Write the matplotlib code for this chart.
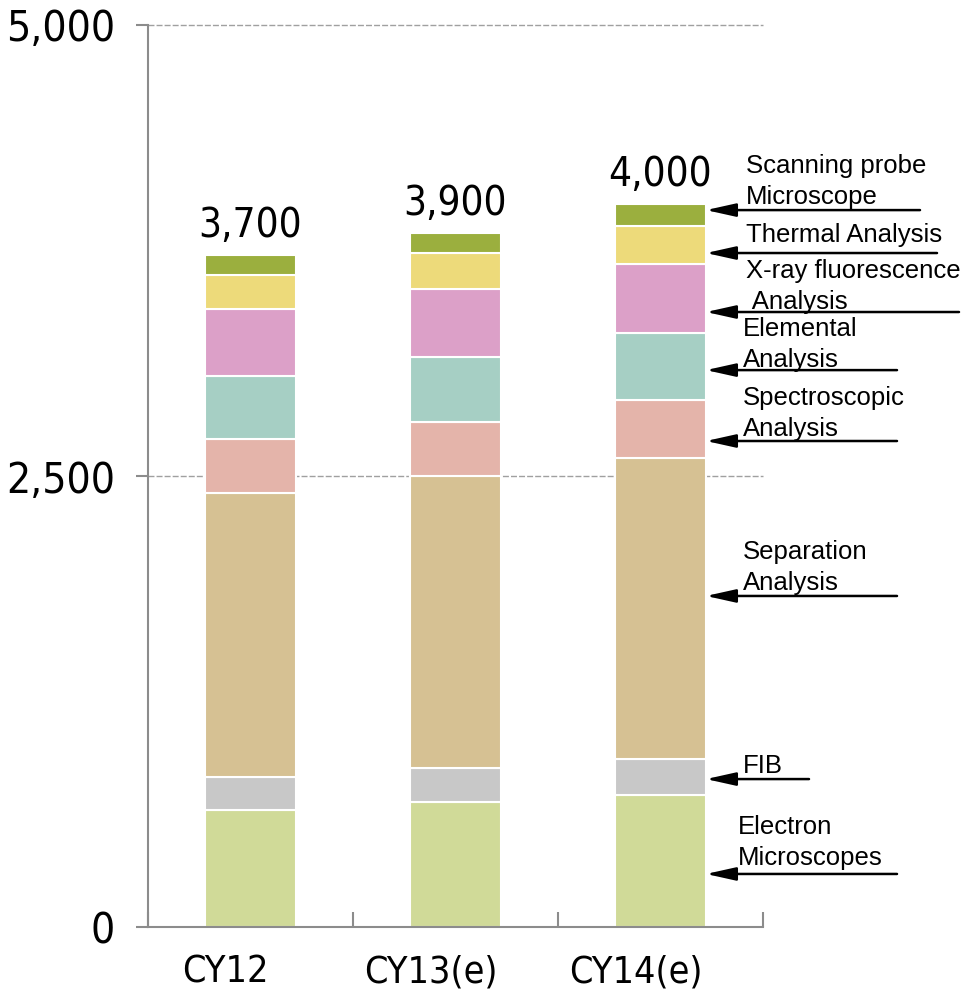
import matplotlib
matplotlib.use("Agg")
import matplotlib.pyplot as plt
import matplotlib.transforms as mtransforms
import numpy as np

# categories and stacked series (units, bottom -> top)
years = ["CY12", "CY13(e)", "CY14(e)"]
electron = [648, 693, 732]
fib = [183, 188, 199]
separation = [1575, 1619, 1669]
spectroscopic = [299, 299, 321]
elemental = [349, 361, 372]
xray = [372, 377, 382]
thermal = [188, 199, 211]
spm = [111, 111, 122]
totals = [3700, 3900, 4000]

series = [electron, fib, separation, spectroscopic, elemental, xray, thermal, spm]
colors = ["#D0DA98", "#C8C8C8", "#D6C193", "#E4B4AA",
          "#A6CFC4", "#DCA0C8", "#EDDA7A", "#9BAF3E"]

# right-hand callouts: text, arrow height (units), arrow length (px), text dx, text dy (px)
callouts = [
    ("Scanning probe\nMicroscope", 3974, 214, 40, 1),
    ("Thermal Analysis", 3736, 231, 40, 6),
    ("X-ray fluorescence\n Analysis", 3409, 253, 40, -2),
    ("Elemental\nAnalysis", 3087, 191, 37, -2),
    ("Spectroscopic\nAnalysis", 2694, 191, 37, 0),
    ("Separation\nAnalysis", 1835, 191, 37, 1),
    ("FIB", 820, 103, 37, 1),
    ("Electron\nMicroscopes", 294, 191, 32, 4),
]

plt.rcParams["font.family"] = ["Liberation Sans", "DejaVu Sans"]
# narrow look for the numbers and year labels
num_font = dict(family="DejaVu Sans", fontstretch="condensed")

fig = plt.figure(figsize=(9.65, 9.92), dpi=100)
ax = fig.add_axes([148 / 965, 1 - 927 / 992, (763 - 148) / 965, (927 - 25) / 992])

x = np.arange(len(years))
width = 0.444
bottom = np.zeros(len(years))
for vals, col in zip(series, colors):
    ax.bar(x, vals, width, bottom=bottom, color=col, edgecolor="white",
           linewidth=1.5, zorder=2)
    bottom += np.array(vals)

# totals above bars
for i, t in enumerate(totals):
    ax.annotate(f"{t:,}", xy=(x[i], bottom[i]), xytext=(0, 18),
                textcoords="offset pixels", ha="center", va="baseline",
                fontsize=29, **num_font)

ax.set_xlim(-0.5, 2.5)
ax.set_ylim(0, 5000)

grey = "#8c8c8c"
for s in ["top", "right"]:
    ax.spines[s].set_visible(False)
for s in ["left", "bottom"]:
    ax.spines[s].set_color(grey)
    ax.spines[s].set_linewidth(1.5)

yt = [0, 2500, 5000]
ax.set_yticks(yt)
ax.set_yticklabels([f"{v:,}" for v in yt], fontsize=30.5, **num_font)
ax.tick_params(axis="y", direction="out", length=8.6, width=1.5, color=grey, pad=15)
for v in yt[1:]:
    ax.axhline(v, color="#a0a0a0", lw=1, linestyle=(0, (4.3, 1.5)), zorder=0, clip_on=False)

ax.set_xticks(x)
ax.set_xticklabels(years, fontsize=27, **num_font)
ax.tick_params(axis="x", which="major", length=0, pad=20)
ax.set_xticks([-0.5, 0.5, 1.5, 2.5], minor=True)
ax.tick_params(axis="x", which="minor", direction="in", length=10.8, width=1.5, color=grey)
shift = mtransforms.ScaledTranslation(-25 / 100, 0, fig.dpi_scale_trans)
for lbl in ax.get_xticklabels():
    lbl.set_transform(lbl.get_transform() + shift)

# callout arrows pointing to the last bar
tip_x = x[-1] + width / 2
for text, yv, length, tdx, tdy in callouts:
    ax.annotate("", xy=(tip_x, yv), xytext=(length, 0), textcoords="offset pixels",
                arrowprops=dict(arrowstyle="-|>,head_length=1.8,head_width=0.4",
                                color="black", lw=1.8, shrinkA=0, shrinkB=0,
                                mutation_scale=10),
                annotation_clip=False)
    ax.annotate(text, xy=(tip_x, yv), xytext=(tdx, tdy), textcoords="offset pixels",
                ha="left", va="bottom", fontsize=18.5, linespacing=1.35,
                annotation_clip=False)

fig.savefig("out.png", dpi=100)
